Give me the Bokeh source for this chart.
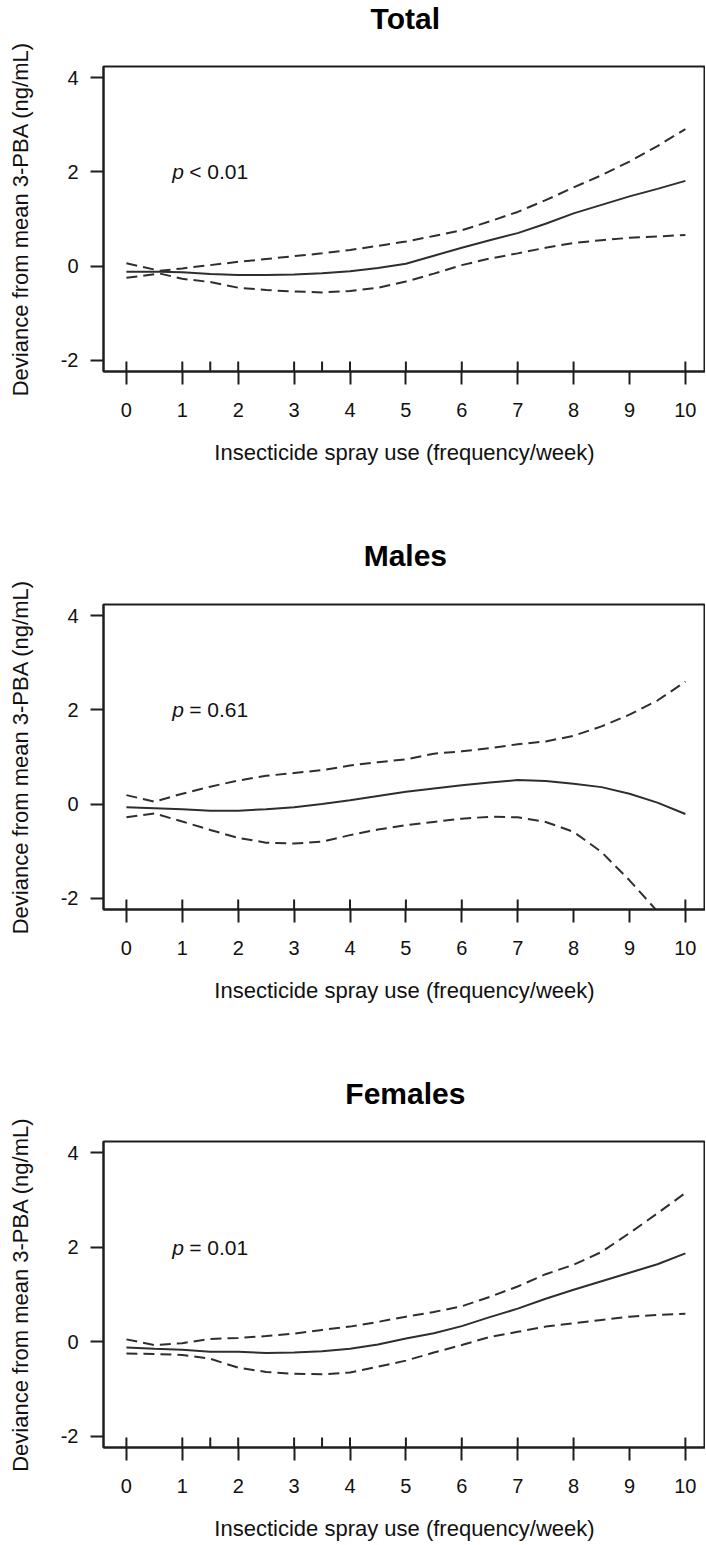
import numpy as np
from bokeh.plotting import figure
from bokeh.layouts import column
from bokeh.models import Range1d, FixedTicker
from bokeh.core.properties import value
from bokeh.embed import file_html
from bokeh.resources import INLINE

# ---------------- data ----------------
titles = ["Total", "Males", "Females"]
p_labels = ["< 0.01", "= 0.61", "= 0.01"]

x_total = [0, 0.6, 1, 1.5, 2, 2.5, 3, 3.5, 4, 4.5, 5, 5.5, 6, 6.5, 7, 7.5, 8, 8.5, 9, 9.5, 10]
fit_total = [-0.12, -0.12, -0.13, -0.17, -0.19, -0.19, -0.18, -0.15, -0.11, -0.04, 0.05,
             0.22, 0.39, 0.55, 0.70, 0.90, 1.12, 1.30, 1.48, 1.64, 1.81]
upper_total = [0.06, -0.10, -0.05, 0.02, 0.09, 0.15, 0.21, 0.27, 0.34, 0.43, 0.52,
               0.64, 0.76, 0.95, 1.15, 1.40, 1.67, 1.93, 2.22, 2.55, 2.91]
lower_total = [-0.25, -0.16, -0.27, -0.34, -0.46, -0.51, -0.54, -0.56, -0.53, -0.46, -0.33,
               -0.16, 0.02, 0.16, 0.27, 0.39, 0.49, 0.55, 0.60, 0.63, 0.66]
rug_total = [0, 1, 1.5, 2, 3, 3.5, 4, 5, 6, 7, 8, 10]

x_males = [0, 0.5, 1, 1.5, 2, 2.5, 3, 3.5, 4, 4.5, 5, 5.5, 6, 6.5, 7, 7.5, 8, 8.5, 9, 9.5, 10]
fit_males = [-0.07, -0.09, -0.11, -0.14, -0.14, -0.11, -0.07, 0.00, 0.08, 0.17, 0.26,
             0.33, 0.40, 0.46, 0.51, 0.49, 0.43, 0.36, 0.22, 0.03, -0.21]
upper_males = [0.19, 0.05, 0.22, 0.37, 0.50, 0.60, 0.66, 0.72, 0.82, 0.89, 0.95,
               1.07, 1.12, 1.19, 1.27, 1.33, 1.45, 1.65, 1.90, 2.20, 2.60]
lower_males = [-0.28, -0.20, -0.37, -0.55, -0.72, -0.82, -0.84, -0.80, -0.66, -0.54, -0.45,
               -0.38, -0.31, -0.27, -0.28, -0.38, -0.59, -1.02, -1.62, -2.28, -3.00]
rug_males = [0, 1, 2, 3, 4, 5, 6, 7, 10]

x_females = [0, 0.5, 1, 1.5, 2, 2.5, 3, 3.5, 4, 4.5, 5, 5.5, 6, 6.5, 7, 7.5, 8, 8.5, 9, 9.5, 10]
fit_females = [-0.12, -0.15, -0.17, -0.21, -0.21, -0.24, -0.23, -0.20, -0.15, -0.06, 0.07,
               0.18, 0.33, 0.52, 0.70, 0.91, 1.10, 1.28, 1.46, 1.64, 1.87]
upper_females = [0.05, -0.07, -0.03, 0.06, 0.08, 0.12, 0.17, 0.25, 0.32, 0.42, 0.53,
                 0.63, 0.75, 0.95, 1.17, 1.43, 1.63, 1.90, 2.30, 2.72, 3.15]
lower_females = [-0.25, -0.26, -0.28, -0.36, -0.55, -0.64, -0.68, -0.69, -0.65, -0.53, -0.40,
                 -0.23, -0.07, 0.10, 0.21, 0.32, 0.39, 0.46, 0.53, 0.57, 0.59]
rug_females = [0, 1, 1.5, 2, 3, 3.5, 4, 5, 6, 7, 8, 10]

x_ticks = [0, 1, 2, 3, 4, 5, 6, 7, 8, 9, 10]
y_ticks = [-2, 0, 2, 4]
y_tick_text = {-2: "-2", 0: "0", 2: "2", 4: "4"}
x_label = "Insecticide spray use (frequency/week)"
y_label = "Deviance from mean 3-PBA (ng/mL)"

panels = [
    (x_total, fit_total, upper_total, lower_total, rug_total),
    (x_males, fit_males, upper_males, lower_males, rug_males),
    (x_females, fit_females, upper_females, lower_females, rug_females),
]

# ---------------- styling / layout ----------------
FONT_NAME = "Liberation Sans"
FONT = value(FONT_NAME)
INK = "#1e1e1e"
LINE = "#2e2e2e"
X_LO, X_HI = -0.41, 10.36
Y_LO, Y_HI = -2.24, 4.24
RUG_LEN = 0.21            # rug tick length in data units (~10 px)
P_X, P_Y = 0.82, 2.0      # placement of the p-value annotation
TITLE_X = 4.99            # horizontal centre of the panel titles

LEFT = 103
FRAME_W = 602
STRIP_H = 36
# (border_top, border_bottom, frame_height) of each panel
geom = [(30, 166, 305), (31, 166, 305), (30, 96, 306)]

items = []
for i, (xs, fit, up, lo, rug) in enumerate(panels):
    # title strip sharing the panel's horizontal scale
    t = figure(output_backend="svg", toolbar_location=None,
               x_range=Range1d(X_LO, X_HI), y_range=Range1d(0, 1),
               min_border_left=LEFT, min_border_right=0, min_border_top=0,
               min_border_bottom=0, frame_width=FRAME_W, frame_height=STRIP_H)
    t.axis.visible = False
    t.grid.visible = False
    t.outline_line_color = None
    t.border_fill_color = "white"
    t.text(x=[TITLE_X], y=[0.5], text=[titles[i]], text_font=FONT, text_font_size="30px",
           text_font_style="bold", text_align="center", text_baseline="middle",
           text_color="black")
    items.append(t)

    bt, bb, fh = geom[i]
    p = figure(output_backend="svg", toolbar_location=None,
               x_range=Range1d(X_LO, X_HI), y_range=Range1d(Y_LO, Y_HI),
               min_border_left=LEFT, min_border_right=0,
               min_border_top=bt, min_border_bottom=bb,
               frame_width=FRAME_W, frame_height=fh)
    p.grid.visible = False
    p.background_fill_color = "white"
    p.border_fill_color = "white"
    p.outline_line_color = INK
    p.outline_line_width = 2

    for ax, ticks in ((p.xaxis[0], x_ticks), (p.yaxis[0], y_ticks)):
        ax.ticker = FixedTicker(ticks=ticks)
        ax.major_tick_out = 13
        ax.major_tick_in = 0
        ax.minor_tick_line_color = None
        ax.major_tick_line_width = 2
        ax.major_tick_line_color = INK
        ax.axis_line_width = 2
        ax.axis_line_color = INK
        ax.major_label_text_font = FONT_NAME
        ax.major_label_text_font_size = "20px"
        ax.major_label_text_color = "#111"
        ax.axis_label_text_font = FONT_NAME
        ax.axis_label_text_font_size = "22px"
        ax.axis_label_text_font_style = "normal"
        ax.axis_label_text_color = "#111"

    p.xaxis.axis_label = x_label
    p.xaxis.major_label_standoff = 18
    p.xaxis.axis_label_standoff = 20
    p.yaxis.axis_label = y_label
    p.yaxis.major_label_orientation = "horizontal"
    p.yaxis.major_label_overrides = y_tick_text
    p.yaxis.major_label_standoff = 12
    p.yaxis.axis_label_standoff = 25

    # confidence bands and fit
    p.line(xs, up, line_color=LINE, line_width=2, line_dash="11 6")
    p.line(xs, lo, line_color=LINE, line_width=2, line_dash="11 6")
    p.line(xs, fit, line_color=LINE, line_width=2)

    # rug of observed values along the bottom axis
    p.segment(x0=rug, y0=[Y_LO] * len(rug), x1=rug, y1=[Y_LO + RUG_LEN] * len(rug),
              line_color=INK, line_width=2)

    # p-value annotation
    p.text(x=[P_X], y=[P_Y], text=["p"], text_font=FONT, text_font_size="21px",
           text_font_style="italic", text_baseline="middle", text_align="left",
           text_color="#111")
    p.text(x=[P_X], y=[P_Y], text=[p_labels[i]], x_offset=17, text_font=FONT,
           text_font_size="21px", text_baseline="middle", text_align="left",
           text_color="#111")
    items.append(p)

layout = column(*items, spacing=0)
open("out.html", "w").write(file_html(layout, INLINE))
